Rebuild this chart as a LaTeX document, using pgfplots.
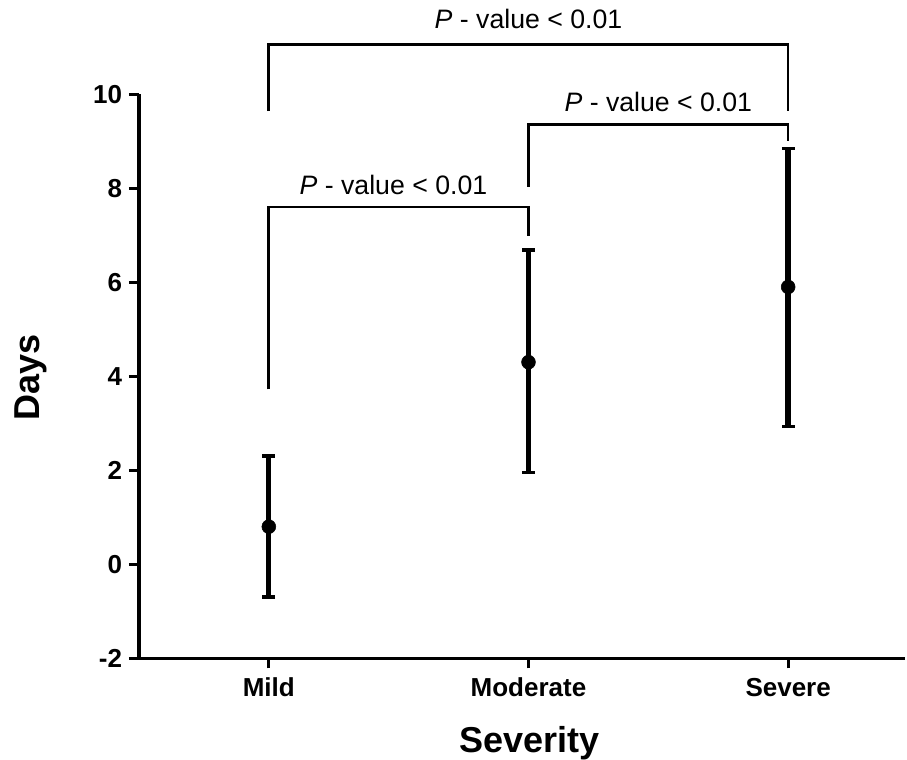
\documentclass[border=0pt]{standalone}
\usepackage{fontspec}
\setmainfont{Liberation Sans}
\usepackage{pgfplots}
\pgfplotsset{compat=1.18}

\begin{document}
\begin{tikzpicture}
\begin{axis}[
  at={(0,0)}, anchor=south west,
  scale only axis,
  width=574.5pt, height=423pt,
  xmin=-0.5, xmax=2.45,
  ymin=-2, ymax=10,
  axis x line=bottom, axis y line=left,
  axis line style={-, line width=2.3pt},
  xtick={0,1,2},
  xticklabels={Mild,Moderate,Severe},
  ytick={-2,0,2,4,6,8,10},
  yticklabels={-2,0,2,4,6,8,10},
  tick align=outside,
  major tick length=7.5pt,
  tick style={line width=2.3pt, black},
  tick label style={font=\fontsize{19.5}{21}\selectfont\bfseries},
  x tick label style={inner sep=2pt, yshift=-5pt},
  y tick label style={inner sep=2pt, xshift=-3pt},
  xlabel={Severity},
  ylabel={Days},
  label style={font=\fontsize{27}{30}\selectfont\bfseries},
  xlabel style={at={(axis description cs:0.51,-0.151)}, anchor=center},
  ylabel style={at={(axis description cs:-0.141,0.498)}, anchor=center, rotate=0},
  clip=false,
]

% mean with error bars
\addplot[only marks, mark=*, mark size=5.2pt, black,
  error bars/.cd, y dir=both, y explicit,
  error bar style={line width=4pt, black},
  error mark options={rotate=90, mark size=4.8pt, line width=2.6pt, black}]
  coordinates {
    (0,0.8) += (0,1.5) -= (0,1.5)
    (1,4.3) += (0,2.39) -= (0,2.35)
    (2,5.9) += (0,2.95) -= (0,2.97)
  };

% significance brackets
\addplot[black, line width=2pt, mark=none] coordinates {(0,3.72) (0,7.6) (1,7.6) (1,6.98)};
\addplot[black, line width=2pt, mark=none] coordinates {(1,8.03) (1,9.36) (2,9.36) (2,9.0)};
\addplot[black, line width=2pt, mark=none] coordinates {(0,9.64) (0,11.06) (2,11.06) (2,9.64)};

\node[font=\fontsize{20}{22}\selectfont] at (axis cs:0.48,8.07) {\textit{P} - value < 0.01};
\node[font=\fontsize{20}{22}\selectfont] at (axis cs:1.5,9.84) {\textit{P} - value < 0.01};
\node[font=\fontsize{20}{22}\selectfont] at (axis cs:1,11.6) {\textit{P} - value < 0.01};

\end{axis}
\pgfresetboundingbox
\path[use as bounding box] (-104.25pt,-76.3pt) rectangle (576pt,493.7pt);
\end{tikzpicture}
\end{document}
